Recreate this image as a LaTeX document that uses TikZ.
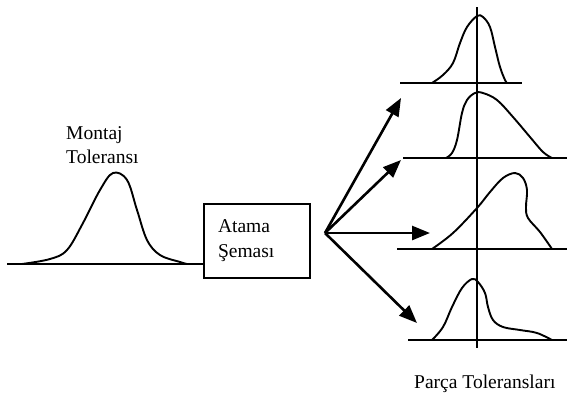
\documentclass[tikz,border=0pt]{standalone}
\usepackage{fontspec}
\setmainfont{Liberation Serif}
\usetikzlibrary{arrows.meta}
\begin{document}
\begin{tikzpicture}[x=1bp,y=-1bp,
  curve/.style={line width=1.9bp, line join=round},
  axisline/.style={line width=1.9bp},
  flow/.style={line width=2.6bp, -{Triangle[length=18bp,width=14bp]}},
  label/.style={font=\fontsize{19.6}{24}\selectfont, inner sep=0pt, anchor=base west}]
\useasboundingbox (0,0) rectangle (577,400);

% assembly tolerance
\node[label] (montaj) at (66,139) {Montaj};
\node[label] (toltxt) at (66,163) {Toleransı};
\node[draw, line width=1.8bp, minimum width=106bp, minimum height=74bp,
      text width=78bp, align=left, inner sep=0pt,
      font=\fontsize{19.6}{25}\selectfont] (box) at (257,241) {Atama\\Şeması};
\coordinate (m0) at (7,264);
\draw[axisline] (m0) -- (m0 -| box.west);
\draw[curve] plot[smooth, tension=0.6] coordinates {
  (22,264) (50,259) (67,250) (83,223) (100,190) (113,173) (127,180)
  (137,210) (147,240) (160,255) (180,262) (187,264)};

% part tolerances
\coordinate (src) at (325,233);
\coordinate (t1) at (401,98);
\coordinate (t2) at (401,160);
\coordinate (t3) at (430,233);
\coordinate (t4) at (417,323);
\foreach \t in {t1,t2,t3,t4} \draw[flow] (src) -- (\t);

\coordinate (axtop) at (477,7);
\coordinate (axbot) at (477,348);
\draw[axisline] (axtop) -- (axbot);

\draw[axisline] (400,83) -- (522,83);
\draw[axisline] (403,158) -- (567,158);
\draw[axisline] (397,249) -- (567,249);
\draw[axisline] (408,340) -- (567,340);

\draw[curve] plot[smooth, tension=0.6] coordinates {
  (432,83) (443,75) (453,63) (460,43) (467,27) (477,16) (483,17)
  (490,27) (495,47) (500,67) (505,80) (507,83)};
\draw[curve] plot[smooth, tension=0.6] coordinates {
  (446,158) (452,153) (457,140) (462,113) (467,100) (475,93) (483,93)
  (497,100) (513,117) (530,137) (543,152) (552,158)};
\draw[curve] plot[smooth, tension=0.6] coordinates {
  (432,249) (453,233) (477,208) (490,192) (503,178) (515,173) (523,178)
  (527,190) (526,207) (528,218) (540,232) (552,249)};
\draw[curve] plot[smooth, tension=0.6] coordinates {
  (432,340) (443,327) (452,307) (462,288) (472,279) (478,282) (485,293)
  (488,307) (493,320) (503,327) (520,330) (537,333) (552,340)};

\node[label] (parca) at (414,388) {Parça Toleransları};
\end{tikzpicture}
\end{document}
